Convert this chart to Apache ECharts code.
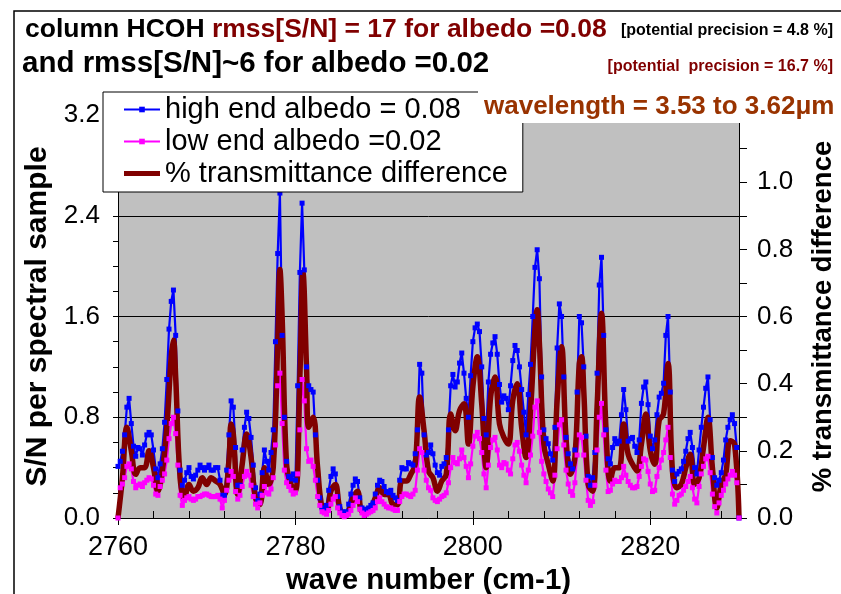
<!DOCTYPE html>
<html><head><meta charset="utf-8">
<script src="https://cdn.jsdelivr.net/npm/echarts@6/dist/echarts.min.js"></script>
<style>html,body{margin:0;padding:0;background:#fff}#c{width:841px;height:594px}</style>
</head><body><div id="c"></div>
<script>
const FONT = "'Liberation Sans', Arial, Helvetica, sans-serif";

const titleBlack1 = 'column HCOH ';
const titleRed1 = 'rmss[S/N] = 17 for albedo =0.08';
const note1 = '[potential precision = 4.8 %]';
const title2 = 'and rmss[S/N]~6 for albedo =0.02';
const note2 = '[potential  precision = 16.7 %]';
const wavelengthText = 'wavelength = 3.53 to 3.62\u03bcm';
const seriesNames = ['high end albedo = 0.08', 'low end albedo =0.02', '% transmittance difference'];

// sample positions (cm-1) of the albedo series
const wavenumber = [
 2760,2760.25,2760.5,2760.75,2761,2761.25,2761.5,2761.75,2762,2762.25,2762.5,2762.75,2763,2763.25,2763.5,2763.75,2764,2764.25,2764.5,2764.75,
 2765,2765.25,2765.5,2765.75,2766,2766.25,2766.5,2766.75,2767,2767.25,2767.5,2767.75,2768,2768.25,2768.5,2768.75,2769,2769.25,2769.5,2769.75,
 2770,2770.25,2770.5,2770.75,2771,2771.25,2771.5,2771.75,2772,2772.25,2772.5,2772.75,2773,2773.25,2773.5,2773.75,2774,2774.25,2774.5,2774.75,
 2775,2775.25,2775.5,2775.75,2776,2776.25,2776.5,2776.75,2777,2777.25,2777.5,2777.75,2778,2778.25,2778.5,2778.75,2779,2779.25,2779.5,2779.75,
 2780,2780.25,2780.5,2780.75,2781,2781.25,2781.5,2781.75,2782,2782.25,2782.5,2782.75,2783,2783.25,2783.5,2783.75,2784,2784.25,2784.5,2784.75,
 2785,2785.25,2785.5,2785.75,2786,2786.25,2786.5,2786.75,2787,2787.25,2787.5,2787.75,2788,2788.25,2788.5,2788.75,2789,2789.25,2789.5,2789.75,
 2790,2790.25,2790.5,2790.75,2791,2791.25,2791.5,2791.75,2792,2792.25,2792.5,2792.75,2793,2793.25,2793.5,2793.75,2794,2794.25,2794.5,2794.75,
 2795,2795.25,2795.5,2795.75,2796,2796.25,2796.5,2796.75,2797,2797.25,2797.5,2797.75,2798,2798.25,2798.5,2798.75,2799,2799.25,2799.5,2799.75,
 2800,2800.25,2800.5,2800.75,2801,2801.25,2801.5,2801.75,2802,2802.25,2802.5,2802.75,2803,2803.25,2803.5,2803.75,2804,2804.25,2804.5,2804.75,
 2805,2805.25,2805.5,2805.75,2806,2806.25,2806.5,2806.75,2807,2807.25,2807.5,2807.75,2808,2808.25,2808.5,2808.75,2809,2809.25,2809.5,2809.75,
 2810,2810.25,2810.5,2810.75,2811,2811.25,2811.5,2811.75,2812,2812.25,2812.5,2812.75,2813,2813.25,2813.5,2813.75,2814,2814.25,2814.5,2814.75,
 2815,2815.25,2815.5,2815.75,2816,2816.25,2816.5,2816.75,2817,2817.25,2817.5,2817.75,2818,2818.25,2818.5,2818.75,2819,2819.25,2819.5,2819.75,
 2820,2820.25,2820.5,2820.75,2821,2821.25,2821.5,2821.75,2822,2822.25,2822.5,2822.75,2823,2823.25,2823.5,2823.75,2824,2824.25,2824.5,2824.75,
 2825,2825.25,2825.5,2825.75,2826,2826.25,2826.5,2826.75,2827,2827.25,2827.5,2827.75,2828,2828.25,2828.5,2828.75,2829,2829.25,2829.5,2829.75,
 2830
];

const highEnd = [
 0.41,0.45,0.53,0.66,0.88,0.95,0.75,0.57,0.49,0.56,0.55,0.50,0.58,0.66,0.68,0.66,0.54,0.39,0.32,0.43,
 0.55,0.76,1.10,1.50,1.72,1.81,1.45,0.85,0.38,0.26,0.30,0.36,0.40,0.33,0.31,0.34,0.38,0.42,0.40,0.38,
 0.40,0.42,0.38,0.38,0.40,0.40,0.30,0.18,0.18,0.38,0.66,0.93,0.88,0.56,0.26,0.26,0.54,0.72,0.84,0.79,
 0.64,0.42,0.24,0.14,0.19,0.36,0.54,0.45,0.38,0.52,0.70,1.40,2.10,2.58,1.45,0.80,0.45,0.33,0.31,0.35,
 0.30,1.05,1.95,2.50,1.97,1.20,1.05,1.02,1.00,0.66,0.30,0.16,0.08,0.06,0.10,0.22,0.33,0.39,0.35,0.17,
 0.09,0.05,0.03,0.05,0.11,0.19,0.26,0.31,0.29,0.16,0.08,0.06,0.07,0.08,0.10,0.12,0.19,0.26,0.30,0.29,
 0.25,0.21,0.20,0.22,0.18,0.16,0.14,0.30,0.40,0.39,0.39,0.44,0.43,0.42,0.51,0.70,1.22,1.15,0.66,0.50,
 0.52,0.58,0.51,0.42,0.36,0.34,0.41,0.43,0.48,0.70,1.05,1.14,1.04,1.08,1.23,1.31,1.15,0.95,0.80,1.13,
 1.40,1.51,1.54,1.48,1.20,0.79,0.66,1.08,1.30,1.39,1.44,1.30,1.06,0.92,0.97,0.95,0.86,1.05,1.25,1.37,
 1.33,1.20,1.02,0.84,0.66,0.98,1.22,1.60,1.99,2.13,1.90,1.12,0.70,0.63,0.59,0.51,0.46,0.72,1.35,1.70,
 1.60,1.12,0.64,0.51,0.43,0.39,0.54,1.00,1.60,1.55,1.20,0.65,0.33,0.26,0.32,0.52,1.15,1.85,2.07,1.45,
 0.70,0.47,0.43,0.56,0.63,0.59,0.61,0.82,1.02,0.86,0.61,0.63,0.64,0.57,0.52,0.62,0.91,1.04,1.08,0.90,
 0.65,0.55,0.62,0.82,0.96,0.99,1.07,1.45,1.60,1.00,0.38,0.29,0.35,0.37,0.39,0.45,0.53,0.63,0.68,0.56,
 0.40,0.35,0.54,0.72,0.88,1.03,1.12,0.78,0.48,0.32,0.26,0.30,0.36,0.46,0.62,0.72,0.78,0.82,0.75,0.56,
 0.00
];

const lowEnd = [
 0.00,0.24,0.27,0.32,0.41,0.43,0.39,0.29,0.24,0.26,0.27,0.25,0.28,0.30,0.32,0.31,0.26,0.19,0.18,0.25,
 0.30,0.35,0.46,0.63,0.75,0.80,0.67,0.42,0.18,0.10,0.14,0.16,0.17,0.15,0.14,0.15,0.17,0.17,0.18,0.19,
 0.19,0.18,0.17,0.17,0.17,0.18,0.15,0.08,0.14,0.22,0.30,0.37,0.33,0.21,0.15,0.18,0.25,0.33,0.37,0.34,
 0.26,0.17,0.11,0.08,0.12,0.18,0.25,0.20,0.19,0.23,0.32,0.58,1.05,1.15,0.75,0.38,0.28,0.25,0.22,0.19,
 0.20,0.35,0.70,1.10,0.93,0.55,0.45,0.46,0.41,0.30,0.17,0.10,0.05,0.04,0.03,0.06,0.11,0.15,0.17,0.08,
 0.04,0.02,0.01,0.02,0.03,0.06,0.10,0.16,0.13,0.07,0.04,0.02,0.03,0.04,0.05,0.06,0.08,0.13,0.16,0.13,
 0.11,0.09,0.08,0.08,0.07,0.06,0.06,0.13,0.17,0.19,0.19,0.18,0.17,0.19,0.22,0.38,0.55,0.52,0.38,0.30,
 0.24,0.22,0.16,0.14,0.13,0.15,0.17,0.18,0.20,0.28,0.40,0.48,0.44,0.43,0.47,0.54,0.48,0.41,0.32,0.43,
 0.57,0.65,0.68,0.63,0.52,0.35,0.24,0.42,0.56,0.62,0.64,0.54,0.42,0.40,0.44,0.43,0.38,0.35,0.47,0.58,
 0.60,0.53,0.42,0.34,0.28,0.38,0.50,0.65,0.88,0.93,0.68,0.45,0.35,0.29,0.23,0.20,0.17,0.34,0.55,0.74,
 0.78,0.58,0.38,0.27,0.21,0.18,0.28,0.50,0.66,0.64,0.50,0.30,0.14,0.10,0.13,0.26,0.54,0.80,0.91,0.66,
 0.38,0.21,0.22,0.27,0.30,0.29,0.29,0.32,0.41,0.34,0.29,0.26,0.24,0.24,0.25,0.33,0.41,0.47,0.46,0.37,
 0.27,0.21,0.22,0.33,0.40,0.46,0.52,0.62,0.72,0.48,0.19,0.11,0.14,0.18,0.19,0.22,0.25,0.29,0.33,0.24,
 0.15,0.12,0.25,0.35,0.41,0.47,0.49,0.36,0.19,0.09,0.04,0.12,0.18,0.22,0.27,0.31,0.34,0.37,0.34,0.28,
 0.00
];

// sample positions (cm-1) of the transmittance difference curve
const diffWavenumber = [
 2760,2760.5,2761,2761.5,2762,2762.5,2763,2763.5,2764,2764.5,
 2765,2765.5,2766,2766.25,2766.5,2767,2767.5,2768,2768.5,2769,2769.5,
 2770,2770.5,2771,2771.5,2772,2772.5,2772.75,2773,2773.5,2774,2774.5,
 2775,2775.5,2776,2776.5,2777,2777.5,2778,2778.25,2778.5,2779,2779.5,
 2780,2780.5,2780.85,2781.25,2781.5,2782,2782.5,2783,2783.5,2784,2784.5,
 2785,2785.5,2786,2786.5,2787,2787.5,2788,2788.5,2789,2789.5,
 2790,2790.5,2791,2791.5,2792,2792.5,2793,2793.5,2794,2794.5,
 2795,2795.5,2796,2796.5,2797,2797.5,2798,2798.5,2799,2799.5,
 2800,2800.5,2801,2801.5,2802,2802.5,2803,2803.5,2804,2804.5,
 2805,2805.5,2806,2806.5,2807,2807.25,2807.5,2808,2808.5,2809,2809.5,
 2810,2810.5,2811,2811.5,2812,2812.25,2812.5,2813,2813.5,2814,2814.5,
 2815,2815.5,2816,2816.5,2817,2817.5,2818,2818.5,2819,2819.5,
 2820,2820.5,2821,2821.5,2822,2822.5,2823,2823.5,2824,2824.5,
 2825,2825.5,2826,2826.5,2827,2827.5,2828,2828.5,2829,2829.5,
 2830
];

const transDiff = [
 0.00,0.12,0.27,0.20,0.13,0.15,0.15,0.20,0.15,0.08,
 0.14,0.27,0.48,0.53,0.42,0.12,0.06,0.10,0.08,0.09,0.12,
 0.10,0.12,0.11,0.10,0.07,0.17,0.28,0.25,0.07,0.16,0.25,
 0.18,0.06,0.04,0.15,0.10,0.15,0.52,0.74,0.60,0.16,0.10,
 0.08,0.42,0.73,0.45,0.27,0.30,0.15,0.03,0.02,0.08,0.10,
 0.03,0.01,0.02,0.06,0.08,0.02,0.02,0.03,0.06,0.09,
 0.07,0.07,0.04,0.04,0.11,0.11,0.13,0.16,0.36,0.26,
 0.14,0.12,0.08,0.11,0.13,0.31,0.26,0.32,0.34,0.22,
 0.39,0.48,0.34,0.15,0.36,0.42,0.28,0.24,0.22,0.35,
 0.40,0.27,0.18,0.32,0.56,0.62,0.52,0.22,0.16,0.11,0.35,
 0.51,0.24,0.13,0.18,0.46,0.48,0.38,0.10,0.08,0.33,0.61,
 0.27,0.11,0.15,0.15,0.28,0.19,0.16,0.14,0.22,0.31,
 0.20,0.16,0.29,0.31,0.46,0.14,0.09,0.10,0.15,0.19,
 0.10,0.12,0.21,0.30,0.15,0.03,0.10,0.13,0.23,0.22,
 0.00
];

const pairs = (xs, ys) => xs.map((w, i) => [w, ys[i]]);

const chart = echarts.init(document.getElementById('c'), null, {renderer: 'canvas'});
const option = {
  animation: false,
  backgroundColor: '#fff',
  textStyle: {fontFamily: FONT},
  grid: {left: 118, right: 102, top: 115, bottom: 76, show: true, backgroundColor: '#c0c0c0', borderWidth: 0,
         containLabel: false, outerBoundsMode: 'none'},
  legend: {
    orient: 'vertical', left: 103, top: 92,
    backgroundColor: '#fff', borderColor: '#000', borderWidth: 1,
    padding: [2, 15, 3, 20], itemGap: 1, itemWidth: 36, itemHeight: 7,
    textStyle: {fontSize: 29, color: '#000', fontFamily: FONT, lineHeight: 31},
    data: [{name: seriesNames[0]}, {name: seriesNames[1]},
           {name: seriesNames[2], icon: 'path://M0,0H36V5H0Z'}]
  },
  xAxis: [
    {type: 'value', min: 2760, max: 2830, interval: 4, position: 'bottom',
     axisLine: {onZero: false, lineStyle: {color: '#000', width: 1}},
     axisTick: {inside: true, length: 7, lineStyle: {color: '#000'}},
     axisLabel: {show: false}, splitLine: {show: false}},
    {type: 'value', min: 2760, max: 2830, interval: 20, position: 'bottom',
     axisLine: {show: false, onZero: false},
     axisTick: {inside: false, length: 7, lineStyle: {color: '#000'}},
     axisLabel: {margin: 16, fontSize: 27, color: '#000', fontFamily: FONT, showMaxLabel: false,
                 formatter: v => (v % 20 === 0 ? String(v) : '')},
     splitLine: {show: false},
     name: 'wave number (cm-1)', nameLocation: 'middle', nameGap: 45,
     nameTextStyle: {fontSize: 29.5, fontWeight: 'bold', color: '#000', fontFamily: FONT}}
  ],
  yAxis: [
    {type: 'value', min: 0, max: 3.2, interval: 0.8, position: 'left',
     axisLine: {show: true, lineStyle: {color: '#000'}},
     axisTick: {show: true, length: 5, lineStyle: {color: '#000'}},
     minorTick: {show: true, splitNumber: 4, length: 5, lineStyle: {color: '#000'}},
     splitLine: {show: true, lineStyle: {color: '#000', width: 1}},
     axisLabel: {fontSize: 26, color: '#000', margin: 18, fontFamily: FONT, formatter: v => v.toFixed(1)},
     name: 'S/N per spectral sample', nameLocation: 'middle', nameGap: 62, nameRotate: 90,
     nameTextStyle: {fontSize: 30, fontWeight: 'bold', color: '#000', fontFamily: FONT}},
    {type: 'value', min: 0, max: 1.2, interval: 0.2, position: 'right',
     axisLine: {show: true, lineStyle: {color: '#000'}},
     axisTick: {show: true, length: 8, lineStyle: {color: '#000'}},
     minorTick: {show: true, splitNumber: 2, length: 8, lineStyle: {color: '#000'}},
     splitLine: {show: false},
     axisLabel: {fontSize: 26, color: '#000', margin: 18, fontFamily: FONT, formatter: v => v.toFixed(1)},
     name: '% transmittance difference', nameLocation: 'middle', nameGap: 70, nameRotate: 90,
     nameTextStyle: {fontSize: 27.5, fontWeight: 'bold', color: '#000', fontFamily: FONT}}
  ],
  series: [
    {name: seriesNames[0], type: 'line', xAxisIndex: 0, yAxisIndex: 0, data: pairs(wavenumber, highEnd),
     symbol: 'rect', symbolSize: 5, showAllSymbol: true,
     lineStyle: {color: '#0000ff', width: 2.2}, itemStyle: {color: '#0000ff'}},
    {name: seriesNames[1], type: 'line', xAxisIndex: 0, yAxisIndex: 0, data: pairs(wavenumber, lowEnd),
     symbol: 'rect', symbolSize: 5, showAllSymbol: true,
     lineStyle: {color: '#ff00ff', width: 2.2}, itemStyle: {color: '#ff00ff'}},
    {name: seriesNames[2], type: 'line', xAxisIndex: 0, yAxisIndex: 1, data: pairs(diffWavenumber, transDiff),
     symbol: 'none', smooth: 0.4,
     lineStyle: {color: '#800000', width: 5.5}, itemStyle: {color: '#800000'}}
  ],
  graphic: [
    {type: 'rect', z: 100, shape: {x: 14, y: 11, width: 1000, height: 1000},
     style: {fill: 'none', stroke: '#000', lineWidth: 1.5}},
    {type: 'text', z: 100, x: 25, y: 30,
     style: {text: '{k|' + titleBlack1 + '}{r|' + titleRed1 + '}', verticalAlign: 'middle',
             rich: {k: {fill: '#000', fontSize: 26.5, fontWeight: 'bold', fontFamily: FONT},
                    r: {fill: '#800000', fontSize: 26.5, fontWeight: 'bold', fontFamily: FONT}}}},
    {type: 'text', z: 100, x: 833, y: 31,
     style: {text: note1, align: 'right', verticalAlign: 'middle', fill: '#000',
             font: 'bold 16px ' + FONT}},
    {type: 'text', z: 100, x: 22, y: 64,
     style: {text: title2, verticalAlign: 'middle', fill: '#000', font: 'bold 29.5px ' + FONT}},
    {type: 'text', z: 100, x: 833, y: 67,
     style: {text: note2, align: 'right', verticalAlign: 'middle', fill: '#800000',
             font: 'bold 16px ' + FONT}},
    {type: 'rect', z: 90, shape: {x: 478, y: 88, width: 370, height: 35},
     style: {fill: '#fff'}},
    {type: 'text', z: 100, x: 484, y: 107,
     style: {text: wavelengthText, verticalAlign: 'middle', fill: '#993300', font: 'bold 26px ' + FONT}}
  ]
};
chart.setOption(option);
</script>
</body></html>
